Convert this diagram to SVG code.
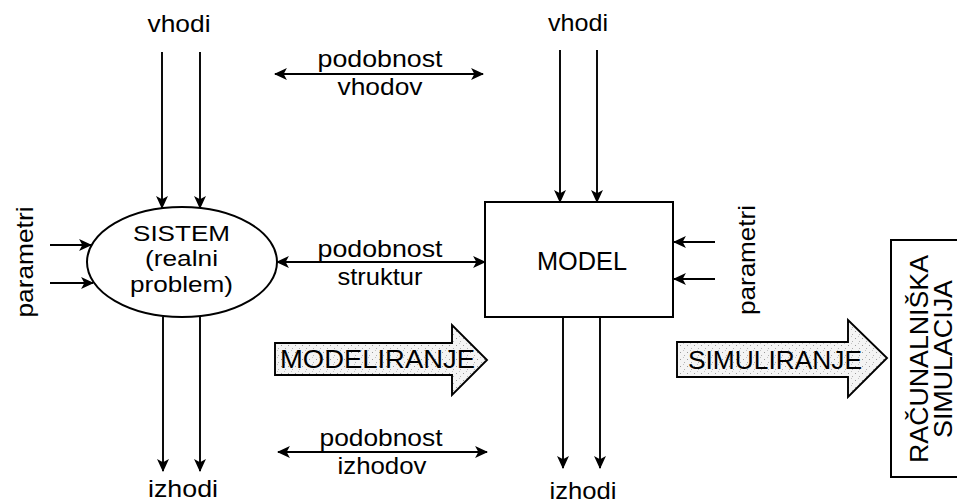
<svg xmlns="http://www.w3.org/2000/svg" width="957" height="504" viewBox="0 0 957 504">
  <defs>
    <marker id="ah" viewBox="0 0 12 12" refX="11" refY="6" markerWidth="13" markerHeight="13" markerUnits="userSpaceOnUse" orient="auto-start-reverse">
      <path d="M0,0.5 L12,6 L0,11.5 L3,6 Z" fill="#000"/>
    </marker>
    <pattern id="stipple" width="7" height="7" patternUnits="userSpaceOnUse">
      <rect width="7" height="7" fill="#f4f4f4"/>
      <rect x="1" y="2" width="1" height="1" fill="#9a9a9a"/>
      <rect x="5" y="5" width="1" height="1" fill="#b0b0b0"/>
      <rect x="4" y="0" width="1" height="1" fill="#c4c4c4"/>
    </pattern>
  </defs>
  <style>
    text { font-family: "Liberation Sans", Arial, sans-serif; fill: #000; }
    .lbl { font-size: 24px; text-anchor: middle; }
    .cap { font-size: 25px; text-anchor: middle; }
    .sys { font-size: 22.5px; text-anchor: middle; }
    .ln { stroke: #000; stroke-width: 1.9; fill: none; }
    .arr { marker-end: url(#ah); }
    .dbl { marker-start: url(#ah); marker-end: url(#ah); }
    .shape { stroke: #000; stroke-width: 2; fill: #fff; }
    .block { stroke: #000; stroke-width: 1.9; fill: url(#stipple); }
  </style>

  <rect width="957" height="504" fill="#fff"/>

  <!-- connectors -->
  <g id="connectors">
    <!-- inputs / outputs of the real system -->
    <line class="ln arr" x1="162" y1="52" x2="162" y2="208"/>
    <line class="ln arr" x1="200" y1="52" x2="200" y2="208"/>
    <line class="ln arr" x1="163" y1="317" x2="163" y2="471"/>
    <line class="ln arr" x1="200" y1="317" x2="200" y2="471"/>
    <line class="ln arr" x1="50" y1="245" x2="91" y2="245"/>
    <line class="ln arr" x1="50" y1="283" x2="93" y2="283"/>
    <!-- inputs / outputs of the model -->
    <line class="ln arr" x1="560" y1="50" x2="560" y2="202"/>
    <line class="ln arr" x1="597" y1="50" x2="597" y2="202"/>
    <line class="ln arr" x1="563" y1="317" x2="563" y2="468"/>
    <line class="ln arr" x1="600" y1="317" x2="600" y2="468"/>
    <line class="ln arr" x1="715" y1="242" x2="674" y2="242"/>
    <line class="ln arr" x1="715" y1="279" x2="674" y2="279"/>
    <!-- similarity links -->
    <line class="ln dbl" x1="275" y1="74" x2="483" y2="74"/>
    <line class="ln dbl" x1="277" y1="262" x2="485" y2="262"/>
    <line class="ln dbl" x1="278" y1="452" x2="487" y2="452"/>
  </g>

  <!-- labels -->
  <g id="labels">
    <text class="lbl" x="179" y="32" textLength="63" lengthAdjust="spacingAndGlyphs">vhodi</text>
    <text class="lbl" x="578" y="31" textLength="60" lengthAdjust="spacingAndGlyphs">vhodi</text>
    <text class="lbl" x="183" y="497" textLength="70" lengthAdjust="spacingAndGlyphs">izhodi</text>
    <text class="lbl" x="583" y="499" textLength="67" lengthAdjust="spacingAndGlyphs">izhodi</text>

    <text class="lbl" x="380" y="67" textLength="125" lengthAdjust="spacingAndGlyphs">podobnost</text>
    <text class="lbl" x="380" y="95" textLength="85" lengthAdjust="spacingAndGlyphs">vhodov</text>
    <text class="lbl" x="380" y="257" textLength="125" lengthAdjust="spacingAndGlyphs">podobnost</text>
    <text class="lbl" x="380" y="285" textLength="85" lengthAdjust="spacingAndGlyphs">struktur</text>
    <text class="lbl" x="381" y="446" textLength="123" lengthAdjust="spacingAndGlyphs">podobnost</text>
    <text class="lbl" x="382" y="474" textLength="89" lengthAdjust="spacingAndGlyphs">izhodov</text>

    <text class="lbl" transform="translate(33,262) rotate(-90)" textLength="111" lengthAdjust="spacingAndGlyphs">parametri</text>
    <text class="lbl" transform="translate(755,260) rotate(-90)" textLength="110" lengthAdjust="spacingAndGlyphs">parametri</text>
  </g>

  <!-- real system -->
  <g id="sistem">
    <ellipse class="shape" cx="182" cy="262" rx="95" ry="55"/>
    <text class="sys" x="181.5" y="241" textLength="97" lengthAdjust="spacingAndGlyphs">SISTEM</text>
    <text class="sys" x="181.5" y="266" textLength="73" lengthAdjust="spacingAndGlyphs">(realni</text>
    <text class="sys" x="181.5" y="292" textLength="103" lengthAdjust="spacingAndGlyphs">problem)</text>
  </g>

  <!-- model -->
  <g id="model">
    <rect class="shape" x="485" y="202" width="188" height="115"/>
    <text class="cap" x="582" y="270" textLength="90" lengthAdjust="spacingAndGlyphs">MODEL</text>
  </g>

  <!-- modelling step -->
  <g id="modeliranje">
    <polygon class="block" points="275,343 452,343 452,325 487,360 452,395 452,375 275,375"/>
    <text class="cap" x="377.5" y="368" textLength="195" lengthAdjust="spacingAndGlyphs">MODELIRANJE</text>
  </g>

  <!-- simulation step -->
  <g id="simuliranje">
    <polygon class="block" points="677,342 848,342 848,320 887,358 848,397 848,377 677,377"/>
    <text class="cap" x="775" y="369" textLength="174" lengthAdjust="spacingAndGlyphs">SIMULIRANJE</text>
  </g>

  <!-- computer simulation -->
  <g id="racunalniska-simulacija">
    <rect class="shape" x="891" y="240" width="80" height="237"/>
    <text class="cap" transform="translate(928,359) rotate(-90)" textLength="208" lengthAdjust="spacingAndGlyphs">RAČUNALNIŠKA</text>
    <text class="cap" transform="translate(952,359) rotate(-90)" textLength="158" lengthAdjust="spacingAndGlyphs">SIMULACIJA</text>
  </g>
</svg>
